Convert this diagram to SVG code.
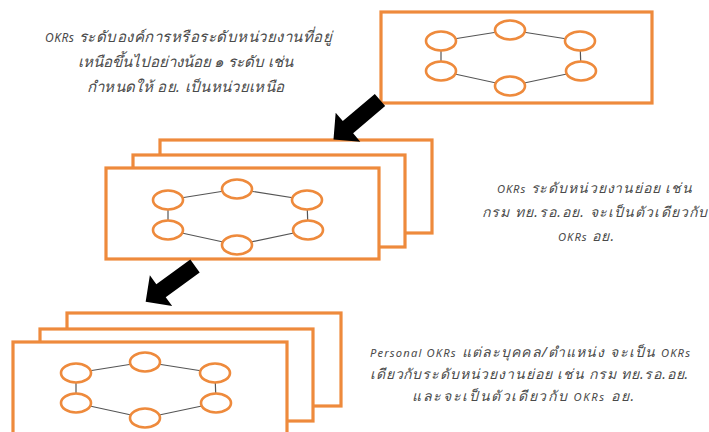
<svg xmlns="http://www.w3.org/2000/svg" xmlns:xlink="http://www.w3.org/1999/xlink" width="709" height="432" viewBox="0 0 709 432">
  <style>
    .box { fill: #ffffff; stroke: #ee8a3c; stroke-width: 3.2; }
    .node { fill: #ffffff; stroke: #ee8a3c; stroke-width: 2.6; }
    .link { stroke: #555555; stroke-width: 1.2; fill: none; }
    .arrow { fill: #000000; }
    .lbl { font-family: "Noto Sans", "DejaVu Sans", sans-serif; font-style: italic; fill: #4a4a4a; text-anchor: middle; }
    .big { font-size: 15px; }
    .small { font-size: 14px; }
    .lat { font-size: 0.8em; }
  </style>
  <defs>
    <g id="ring">
      <g class="link">
        <line x1="0" y1="0" x2="69" y2="-11"/>
        <line x1="69" y1="-11" x2="139" y2="0"/>
        <line x1="139" y1="0" x2="140" y2="30"/>
        <line x1="140" y1="30" x2="69" y2="45"/>
        <line x1="69" y1="45" x2="0" y2="30"/>
        <line x1="0" y1="30" x2="0" y2="0"/>
      </g>
      <ellipse class="node" cx="0" cy="0" rx="15" ry="9.5"/>
      <ellipse class="node" cx="69" cy="-11" rx="15" ry="9.5"/>
      <ellipse class="node" cx="139" cy="0" rx="15" ry="9.5"/>
      <ellipse class="node" cx="0" cy="30" rx="15" ry="9.5"/>
      <ellipse class="node" cx="140" cy="30" rx="15" ry="9.5"/>
      <ellipse class="node" cx="69" cy="45" rx="15" ry="9.5"/>
    </g>
    <path id="bigarrow" d="M0,-8 L42,-8 L42,-19 L61,0 L42,19 L42,8 L0,8 Z"/>
  </defs>

  <g id="top-unit">
    <rect class="box" x="381" y="12" width="271" height="91"/>
    <use xlink:href="#ring" x="441" y="41"/>
  </g>

  <g id="middle-unit">
    <rect class="box" x="160" y="140" width="272" height="93"/>
    <rect class="box" x="133" y="155" width="272" height="92"/>
    <rect class="box" x="106" y="168" width="273" height="91"/>
    <use xlink:href="#ring" x="168" y="200"/>
  </g>

  <g id="bottom-unit">
    <rect class="box" x="67" y="313" width="274" height="93"/>
    <rect class="box" x="40" y="329" width="273" height="92"/>
    <rect class="box" x="13" y="342" width="274" height="100"/>
    <use xlink:href="#ring" x="76" y="373"/>
  </g>

  <g id="connectors">
    <use class="arrow" xlink:href="#bigarrow" transform="translate(380,100) rotate(139.7)"/>
    <use class="arrow" xlink:href="#bigarrow" transform="translate(195,266) rotate(144)"/>
  </g>

  <g id="label-org">
    <text class="lbl big" x="188.5" y="42" textLength="287" lengthAdjust="spacing"><tspan class="lat">OKRs</tspan> ระดับองค์การหรือระดับหน่วยงานที่อยู่</text>
    <text class="lbl big" x="185.5" y="67" textLength="215" lengthAdjust="spacing">เหนือขึ้นไปอย่างน้อย ๑ ระดับ เช่น</text>
    <text class="lbl big" x="185.5" y="92" textLength="197" lengthAdjust="spacing">กำหนดให้ อย. เป็นหน่วยเหนือ</text>
  </g>

  <g id="label-sub">
    <text class="lbl small" x="594.5" y="193" textLength="195" lengthAdjust="spacing"><tspan class="lat">OKRs</tspan> ระดับหน่วยงานย่อย เช่น</text>
    <text class="lbl small" x="594.5" y="217" textLength="225" lengthAdjust="spacing">กรม ทย.รอ.อย. จะเป็นตัวเดียวกับ</text>
    <text class="lbl small" x="586" y="241" textLength="56" lengthAdjust="spacing"><tspan class="lat">OKRs</tspan> อย.</text>
  </g>

  <g id="label-personal">
    <text class="lbl small" x="530" y="357" textLength="320" lengthAdjust="spacing"><tspan class="lat">Personal OKRs</tspan> แต่ละบุคคล/ตำแหน่ง จะเป็น <tspan class="lat">OKRs</tspan></text>
    <text class="lbl small" x="529" y="379" textLength="318" lengthAdjust="spacing">เดียวกับระดับหน่วยงานย่อย เช่น กรม ทย.รอ.อย.</text>
    <text class="lbl small" x="523" y="401" textLength="222" lengthAdjust="spacing">และจะเป็นตัวเดียวกับ <tspan class="lat">OKRs</tspan> อย.</text>
  </g>
</svg>
